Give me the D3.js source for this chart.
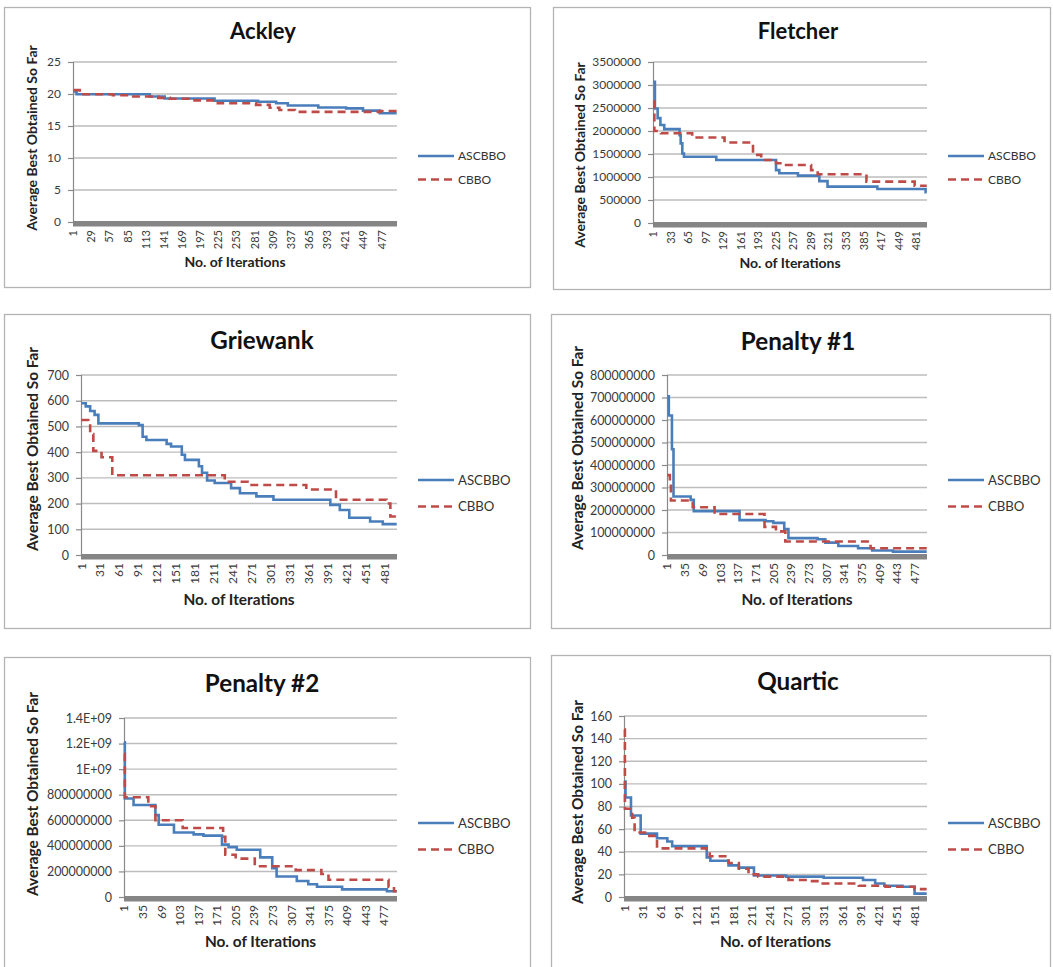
<!DOCTYPE html>
<html>
<head>
<meta charset="utf-8">
<script src="https://cdn.jsdelivr.net/npm/d3@7"></script>
<style>
  body { margin: 0; background: #fff; }
  svg { display: block; font-family: Lato, "Open Sans", sans-serif; }
</style>
</head>
<body>
<svg id="chart" width="1053" height="967"></svg>
<script>
var seriesNames = ["ASCBBO", "CBBO"];
var yAxisTitle = "Average Best Obtained So Far";
var xAxisTitle = "No. of Iterations";
var nIter = 500;

// Ackley  [iteration where value changes, best so far]
var ackleyAsc = [[1,20.4],[6,19.95],[119,19.6],[142,19.3],[219,18.95],[286,18.8],[314,18.55],[332,18.2],[379,17.9],[422,17.75],[448,17.4],[474,17.0],[500,17.0]];
var ackleyCbbo = [[1,20.6],[11,19.95],[62,19.8],[88,19.6],[132,19.4],[150,19.25],[188,19.0],[224,18.55],[283,18.3],[304,17.85],[319,17.5],[343,17.2],[474,17.35],[500,17.35]];
var ackleyYTicks = [0, 5, 10, 15, 20, 25];
var ackleyYLabels = ["0", "5", "10", "15", "20", "25"];
var ackleyXTicks = [1,29,57,85,113,141,169,197,225,253,281,309,337,365,393,421,449,477];

// Fletcher
var fletcherAsc = [[1,3070000],[4,2490000],[9,2280000],[14,2130000],[21,2040000],[49,1910000],[51,1730000],[54,1510000],[57,1440000],[116,1370000],[225,1150000],[231,1080000],[265,1030000],[304,910000],[319,790000],[410,740000],[498,670000],[500,670000]];
var fletcherCbbo = [[1,2640000],[3,2000000],[15,1950000],[72,1860000],[131,1750000],[183,1480000],[198,1370000],[225,1300000],[240,1260000],[289,1150000],[301,1060000],[390,900000],[478,810000],[500,810000]];
var fletcherYTicks = [0, 500000, 1000000, 1500000, 2000000, 2500000, 3000000, 3500000];
var fletcherYLabels = ["0", "500000", "1000000", "1500000", "2000000", "2500000", "3000000", "3500000"];
var fletcherXTicks = [1,33,65,97,129,161,193,225,257,289,321,353,385,417,449,481];

// Griewank
var griewankAsc = [[1,590],[8,578],[15,560],[22,545],[28,512],[92,505],[98,460],[104,447],[136,432],[143,422],[160,390],[165,370],[187,345],[192,320],[200,290],[212,280],[238,260],[252,240],[278,228],[305,215],[395,195],[410,175],[425,145],[458,130],[478,120],[500,120]];
var griewankCbbo = [[1,525],[12,515],[15,470],[20,405],[33,380],[50,310],[228,285],[264,272],[357,255],[404,215],[484,200],[490,150],[500,150]];
var griewankYTicks = [0, 100, 200, 300, 400, 500, 600, 700];
var griewankYLabels = ["0", "100", "200", "300", "400", "500", "600", "700"];
var griewankXTicks = [1,31,61,91,121,151,181,211,241,271,301,331,361,391,421,451,481];

// Penalty #1
var penalty1Asc = [[1,705e6],[4,620e6],[10,470e6],[13,260e6],[46,245e6],[52,195e6],[140,155e6],[190,150e6],[205,143e6],[226,115e6],[234,75e6],[290,70e6],[305,55e6],[330,40e6],[368,30e6],[395,20e6],[435,15e6],[500,15e6]];
var penalty1Cbbo = [[1,355e6],[6,320e6],[8,242e6],[50,212e6],[92,182e6],[188,125e6],[210,105e6],[228,60e6],[392,30e6],[500,30e6]];
var penalty1YTicks = [0, 1e8, 2e8, 3e8, 4e8, 5e8, 6e8, 7e8, 8e8];
var penalty1YLabels = ["0", "100000000", "200000000", "300000000", "400000000", "500000000", "600000000", "700000000", "800000000"];
var penalty1XTicks = [1,35,69,103,137,171,205,239,273,307,341,375,409,443,477];

// Penalty #2
var penalty2Asc = [[1,1.21e9],[2,770e6],[18,720e6],[58,640e6],[64,565e6],[92,505e6],[128,490e6],[146,480e6],[180,410e6],[192,390e6],[207,370e6],[250,310e6],[272,225e6],[280,160e6],[317,125e6],[338,100e6],[354,80e6],[400,60e6],[482,45e6],[500,45e6]];
var penalty2Cbbo = [[1,1.12e9],[2,780e6],[45,710e6],[58,600e6],[108,540e6],[182,470e6],[186,330e6],[205,300e6],[240,240e6],[315,210e6],[362,180e6],[375,135e6],[485,80e6],[495,45e6],[500,45e6]];
var penalty2YTicks = [0, 2e8, 4e8, 6e8, 8e8, 1e9, 1.2e9, 1.4e9];
var penalty2YLabels = ["0", "200000000", "400000000", "600000000", "800000000", "1E+09", "1.2E+09", "1.4E+09"];
var penalty2XTicks = [1,35,69,103,137,171,205,239,273,307,341,375,409,443,477];

// Quartic
var quarticAsc = [[1,102],[3,88],[12,72],[28,56],[55,52],[72,49],[80,45],[137,35],[143,32],[173,28],[190,26],[215,19],[268,18],[330,17],[395,15],[415,12],[430,10],[460,9],[480,3],[500,3]];
var quarticCbbo = [[1,148],[2,78],[14,70],[18,57],[40,54],[55,43],[137,40],[142,36],[173,30],[190,25],[206,20],[222,18],[272,15],[305,14],[322,12],[388,10],[432,9],[480,7],[500,7]];
var quarticYTicks = [0, 20, 40, 60, 80, 100, 120, 140, 160];
var quarticYLabels = ["0", "20", "40", "60", "80", "100", "120", "140", "160"];
var quarticXTicks = [1,31,61,91,121,151,181,211,241,271,301,331,361,391,421,451,481];

var colors = ["#4a7ebb", "#be4b48"];
var dashes = [null, "8,5"];

var charts = [
  {title: "Ackley", series: [ackleyAsc, ackleyCbbo], yTicks: ackleyYTicks, yLabels: ackleyYLabels, xTicks: ackleyXTicks,
   box: [4,7,530,287], plot: [73,62,397,222], titleX: 263, titleY: 39, yTitleX: 37, yTitleY: 138, xTitleY: 267, legX: 418, legY: 156, s: 1},
  {title: "Fletcher", series: [fletcherAsc, fletcherCbbo], yTicks: fletcherYTicks, yLabels: fletcherYLabels, xTicks: fletcherXTicks,
   box: [553,7,1050,289], plot: [653,62,927,223], titleX: 798, titleY: 39, yTitleX: 585, yTitleY: 155, xTitleY: 268, legX: 948, legY: 156, s: 1},
  {title: "Griewank", series: [griewankAsc, griewankCbbo], yTicks: griewankYTicks, yLabels: griewankYLabels, xTicks: griewankXTicks,
   box: [4,314,530,628], plot: [81,375,397,555], titleX: 262, titleY: 349, yTitleX: 38, yTitleY: 449, xTitleY: 605, legX: 418, legY: 480, s: 1.1},
  {title: "Penalty #1", series: [penalty1Asc, penalty1Cbbo], yTicks: penalty1YTicks, yLabels: penalty1YLabels, xTicks: penalty1XTicks,
   box: [551,314,1050,628], plot: [667,375,927,555], titleX: 798, titleY: 350, yTitleX: 583, yTitleY: 448, xTitleY: 605, legX: 948, legY: 480, s: 1.1},
  {title: "Penalty #2", series: [penalty2Asc, penalty2Cbbo], yTicks: penalty2YTicks, yLabels: penalty2YLabels, xTicks: penalty2XTicks,
   box: [4,657,530,995], plot: [124,718,397,897], titleX: 262, titleY: 692, yTitleX: 38, yTitleY: 794, xTitleY: 947, legX: 418, legY: 823, s: 1.1},
  {title: "Quartic", series: [quarticAsc, quarticCbbo], yTicks: quarticYTicks, yLabels: quarticYLabels, xTicks: quarticXTicks,
   box: [551,655,1050,995], plot: [624,716,927,897], titleX: 798, titleY: 690, yTitleX: 583, yTitleY: 802, xTitleY: 947, legX: 948, legY: 823, s: 1.1}
];

var svg = d3.select("#chart");

charts.forEach(function(c) {
  var g = svg.append("g");
  var l = c.plot[0], t = c.plot[1], r = c.plot[2], b = c.plot[3];
  var s = c.s;

  // frame
  g.append("rect")
      .attr("x", c.box[0] + 0.5).attr("y", c.box[1] + 0.5)
      .attr("width", c.box[2] - c.box[0]).attr("height", c.box[3] - c.box[1])
      .attr("fill", "#fff").attr("stroke", "#b4b4b4").attr("stroke-width", 1.3);

  var x = d3.scaleLinear().domain([0.5, nIter + 0.5]).range([l, r]);
  var y = d3.scaleLinear().domain([0, d3.max(c.yTicks)]).range([b, t]);

  // gridlines
  g.selectAll(".grid").data(c.yTicks.slice(1)).enter().append("line")
      .attr("x1", l).attr("x2", r)
      .attr("y1", function(d) { return y(d); }).attr("y2", function(d) { return y(d); })
      .attr("stroke", "#bdbdbd").attr("stroke-width", 1.4);

  // y axis
  var yAxis = d3.axisLeft(y).tickValues(c.yTicks).tickSize(5).tickPadding(7)
      .tickFormat(function(d, i) { return c.yLabels[i]; });
  var ya = g.append("g").attr("transform", "translate(" + l + ",0)").call(yAxis);
  ya.select(".domain").attr("stroke", "#8a8a8a").attr("stroke-width", 1.2);
  ya.selectAll(".tick line").attr("stroke", "#8a8a8a").attr("stroke-width", 1.2);
  ya.selectAll(".tick text").attr("fill", "#3a3a3a")
      .style("font-size", (12 * (s > 1 ? 1.04 : 1)) + "px").style("font-family", "Lato, sans-serif");

  // x axis: dense category tick marks form a dark band
  g.append("rect").attr("x", l).attr("y", b - 1).attr("width", r - l).attr("height", 5.5)
      .attr("fill", "#858585");

  g.selectAll(".xlab").data(c.xTicks).enter().append("text")
      .attr("transform", function(d) { return "translate(" + x(d) + "," + (b + 8) + ") rotate(-90)"; })
      .attr("dy", "0.35em")
      .attr("text-anchor", "end")
      .attr("fill", "#3a3a3a")
      .style("font-size", (s > 1 ? 12 : 11) + "px")
      .text(function(d) { return d; });

  // series
  var line = d3.line()
      .x(function(d) { return x(d[0]); })
      .y(function(d) { return y(d[1]); })
      .curve(d3.curveStepAfter);

  c.series.forEach(function(data, k) {
    g.append("path")
        .datum(data)
        .attr("fill", "none")
        .attr("stroke", colors[k])
        .attr("stroke-width", 2.6)
        .attr("stroke-dasharray", dashes[k])
        .attr("d", line);
  });

  // titles
  g.append("text")
      .attr("x", c.titleX).attr("y", c.titleY)
      .attr("text-anchor", "middle")
      .style("font-size", (22 * s) + "px").style("font-weight", "bold")
      .attr("fill", "#111")
      .text(c.title);

  g.append("text")
      .attr("transform", "translate(" + c.yTitleX + "," + c.yTitleY + ") rotate(-90)")
      .attr("text-anchor", "middle")
      .style("font-size", (14 * s) + "px").style("font-weight", "bold")
      .attr("fill", "#222")
      .text(yAxisTitle);

  g.append("text")
      .attr("x", (l + r) / 2).attr("y", c.xTitleY)
      .attr("text-anchor", "middle")
      .style("font-size", (14 * s) + "px").style("font-weight", "bold")
      .attr("fill", "#222")
      .text(xAxisTitle);

  // legend
  var gap = s > 1 ? 26.5 : 23.5;
  seriesNames.forEach(function(name, k) {
    var ly = c.legY + k * gap;
    g.append("line")
        .attr("x1", c.legX).attr("x2", c.legX + 36)
        .attr("y1", ly).attr("y2", ly)
        .attr("stroke", colors[k]).attr("stroke-width", 2.6)
        .attr("stroke-dasharray", dashes[k]);
    g.append("text")
        .attr("x", c.legX + 40).attr("y", ly)
        .attr("dy", "0.35em")
        .attr("fill", "#333")
        .style("font-size", (12 * s) + "px")
        .text(name);
  });
});
</script>
</body>
</html>
